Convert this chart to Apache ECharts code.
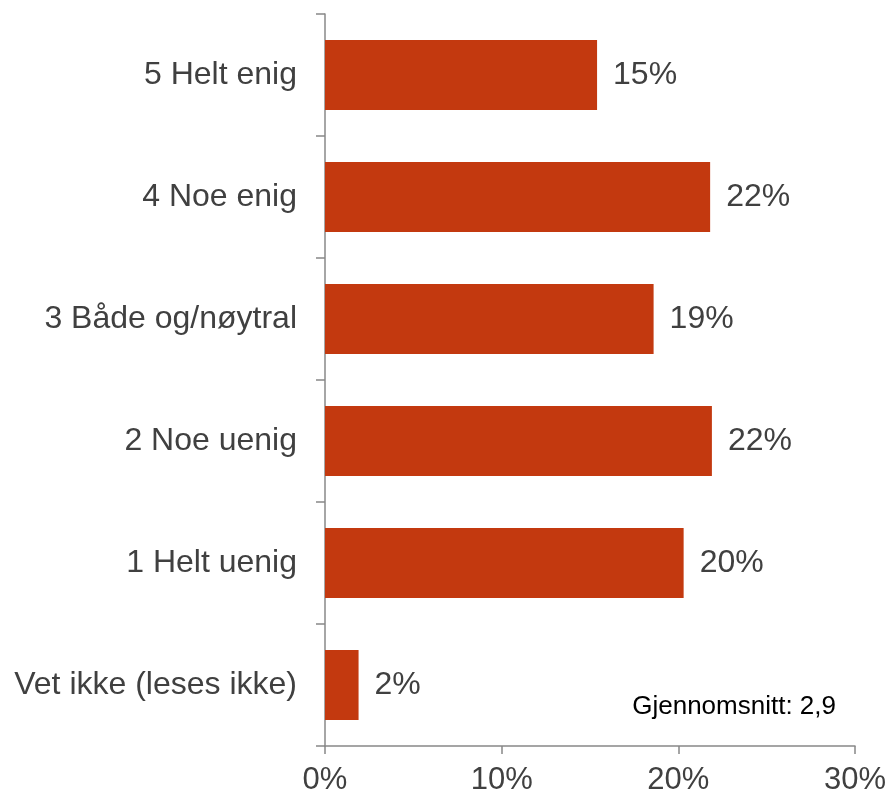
<!DOCTYPE html>
<html>
<head>
<meta charset="utf-8">
<script src="https://cdn.jsdelivr.net/npm/echarts@6/dist/echarts.min.js"></script>
<style>html,body{margin:0;padding:0;background:#fff}#c{width:890px;height:799px}</style>
</head>
<body>
<div id="c"></div>
<script>
const categories = ['5 Helt enig', '4 Noe enig', '3 Både og/nøytral', '2 Noe uenig', '1 Helt uenig', 'Vet ikke (leses ikke)'];
const values = [15.4, 21.8, 18.6, 21.9, 20.3, 1.9];
const valueLabels = ['15%', '22%', '19%', '22%', '20%', '2%'];
const xTicks = [0, 10, 20, 30];
const note = 'Gjennomsnitt: 2,9';

const chart = echarts.init(document.getElementById('c'));
chart.setOption({
  animation: false,
  textStyle: { fontFamily: 'Liberation Sans, Arial, sans-serif' },
  grid: { left: 325, right: 35, top: 14, bottom: 53, containLabel: false },
  xAxis: {
    type: 'value', min: xTicks[0], max: xTicks[xTicks.length - 1], interval: 10,
    axisLine: { show: true, lineStyle: { color: '#888', width: 1.5 } },
    axisTick: { show: true, length: 8, lineStyle: { color: '#888', width: 1.5 } },
    splitLine: { show: false },
    axisLabel: { formatter: v => v + '%', fontSize: 31, color: '#404040', margin: 19, fontFamily: 'Liberation Sans, Arial, sans-serif' }
  },
  yAxis: {
    type: 'category', data: categories, inverse: true,
    axisLine: { show: true, lineStyle: { color: '#888', width: 1.5 } },
    axisTick: { show: true, length: 9, lineStyle: { color: '#888', width: 1.5 } },
    axisLabel: { fontSize: 32, color: '#404040', margin: 28, padding: [4, 0, 0, 0], fontFamily: 'Liberation Sans, Arial, sans-serif' }
  },
  series: [{
    type: 'bar', data: values, barWidth: 70,
    itemStyle: { color: '#C3390F' },
    label: {
      show: true, position: 'right', distance: 16, fontSize: 32, color: '#404040',
      fontFamily: 'Liberation Sans, Arial, sans-serif',
      padding: [4, 0, 0, 0],
      formatter: p => valueLabels[p.dataIndex]
    }
  }],
  graphic: [{
    type: 'text', right: 54, top: 694,
    style: { text: note, fontSize: 26, fill: '#000', fontFamily: 'Liberation Sans, Arial, sans-serif' }
  }]
});
</script>
</body>
</html>
